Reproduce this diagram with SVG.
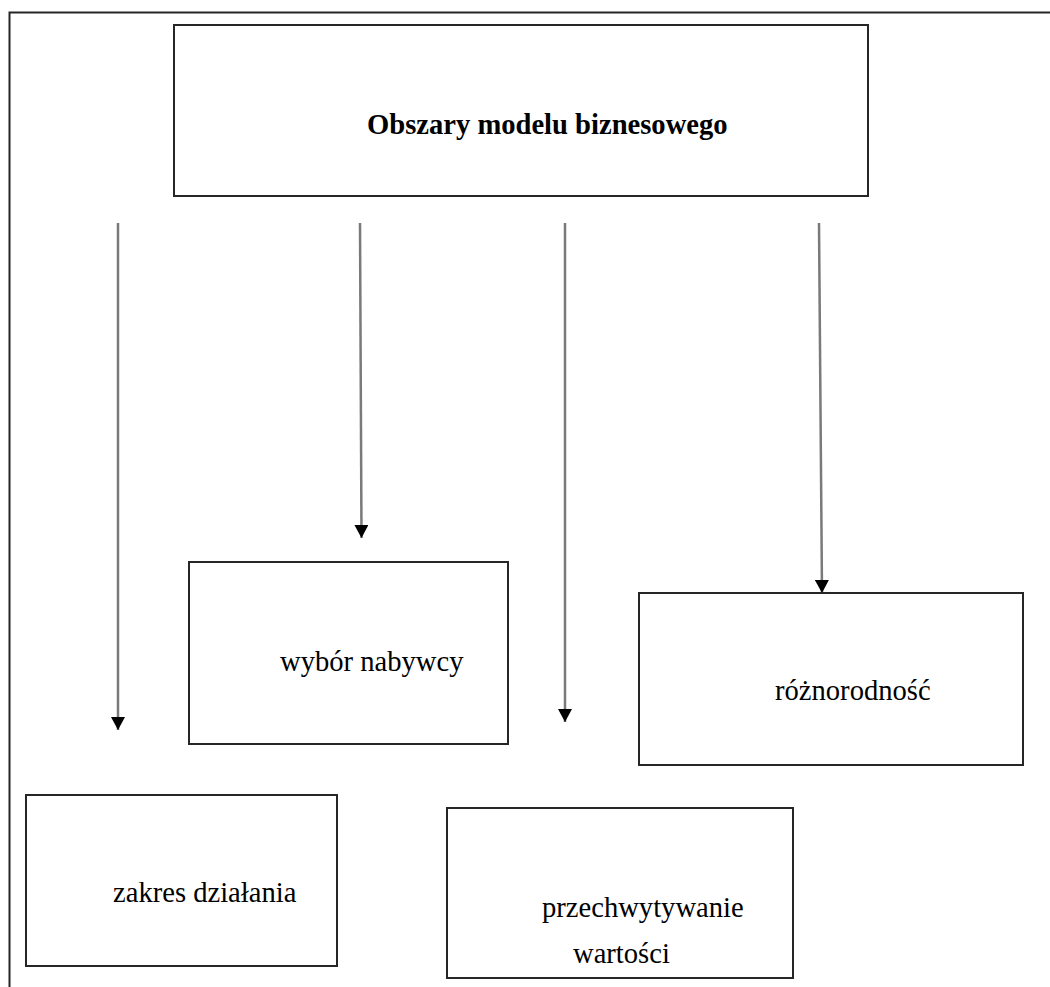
<svg xmlns="http://www.w3.org/2000/svg" width="1050" height="987" viewBox="0 0 1050 987">
  <style>
    .box { fill: #ffffff; stroke: #262626; stroke-width: 2; }
    .frame { fill: none; stroke: #262626; stroke-width: 2; }
    .link { fill: none; stroke: #7a7a7a; stroke-width: 2.5; marker-end: url(#head); }
    .label { font-family: "Liberation Serif", "Times New Roman", serif; font-size: 28.6px; fill: #000000; }
    .title { font-weight: bold; }
  </style>
  <defs>
    <marker id="head" markerUnits="userSpaceOnUse" markerWidth="14" markerHeight="14" viewBox="0 0 14 14" refX="13" refY="7" orient="auto">
      <path d="M0,0 L13,7 L0,14 z" fill="#000000"/>
    </marker>
  </defs>
  <rect width="1050" height="987" fill="#ffffff"/>

  <!-- page frame (left and top edges) -->
  <path class="frame" d="M9.5,987 L9.5,12.5 L1050,12.5"/>

  <g id="node-obszary">
    <rect class="box" x="174" y="25" width="694" height="171"/>
    <text class="label title" x="367" y="134">Obszary modelu biznesowego</text>
  </g>

  <g id="connectors">
    <path class="link" d="M118,223 L118,730"/>
    <path class="link" d="M360,223 L361.5,538"/>
    <path class="link" d="M565,223 L565,722"/>
    <path class="link" d="M819,223 L822,593"/>
  </g>

  <g id="node-wybor">
    <rect class="box" x="189" y="562" width="319" height="182"/>
    <text class="label" x="280" y="671">wybór nabywcy</text>
  </g>

  <g id="node-roznorodnosc">
    <rect class="box" x="639" y="593" width="384" height="172"/>
    <text class="label" x="775" y="700">różnorodność</text>
  </g>

  <g id="node-zakres">
    <rect class="box" x="26" y="795" width="311" height="171"/>
    <text class="label" x="113" y="902">zakres działania</text>
  </g>

  <g id="node-przechwytywanie">
    <rect class="box" x="447" y="808" width="346" height="170"/>
    <text class="label" x="542" y="917">przechwytywanie</text>
    <text class="label" x="573" y="963">wartości</text>
  </g>
</svg>
